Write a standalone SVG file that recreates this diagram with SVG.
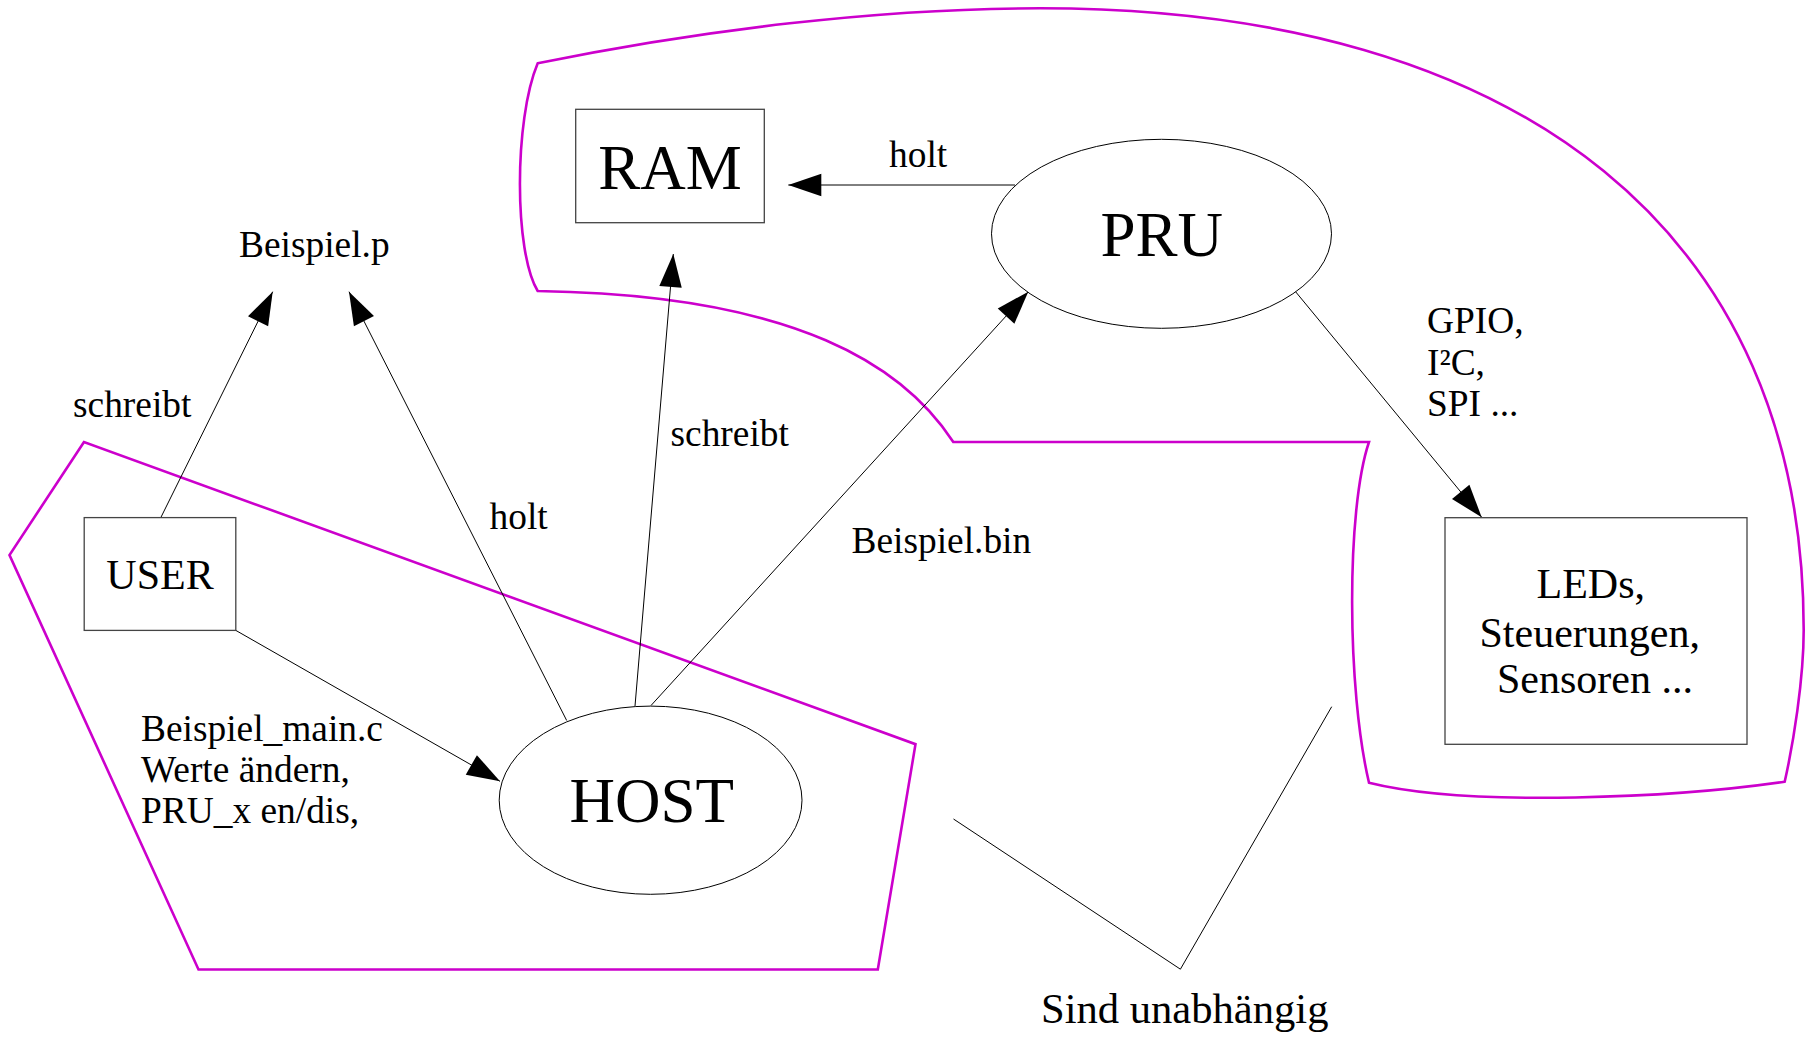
<svg xmlns="http://www.w3.org/2000/svg" width="1812" height="1038" viewBox="0 0 1812 1038">
  <style>
    .lbl { font-family: "Liberation Serif", "Times New Roman", serif; font-size: 37.4px; fill: #000; }
    .big { font-family: "Liberation Serif", "Times New Roman", serif; font-size: 63px; fill: #000; text-anchor: middle; }
    .mid { font-family: "Liberation Serif", "Times New Roman", serif; font-size: 42px; fill: #000; }
    .box { fill: #fff; stroke: #444; stroke-width: 1.3; }
    .ell { fill: #fff; stroke: #000; stroke-width: 1; }
    .edge { fill: none; stroke: #000; stroke-width: 1; }
    .zone { fill: none; stroke: #cc00cc; stroke-width: 2.6; stroke-linejoin: miter; }
  </style>
  <defs>
    <marker id="ah" markerUnits="userSpaceOnUse" markerWidth="34" markerHeight="23" refX="33" refY="11.25" orient="auto" overflow="visible">
      <path d="M0,0 L33,11.25 L0,22.5 z" fill="#000"/>
    </marker>
  </defs>
  <rect x="0" y="0" width="1812" height="1038" fill="#fff"/>

  <!-- grouping outlines -->
  <g id="zones">
    <path id="zone-host" class="zone" d="M84,442 L9.5,555 L198.5,969.5 L877.8,969.5 L915.5,744.2 Z"/>
    <path id="zone-pru" class="zone" d="M537.7,63.3
      C700,30 880,8.3 1040,8.3
      C1525,8.3 1803.7,235.2 1803.7,630
      C1803.7,680 1793,745 1784.7,781.7
      C1680,797 1470,808 1369,782.7
      C1347,690 1346,510 1369,442
      L953.3,442
      C905,368 800,295 537.7,291
      C514,252 514,120 537.7,63.3 Z"/>
  </g>

  <!-- connectors -->
  <g id="connectors">
    <line class="edge" x1="160.6" y1="518" x2="272.7" y2="291.7" marker-end="url(#ah)"/>
    <line class="edge" x1="566.7" y1="720.5" x2="349" y2="291.7" marker-end="url(#ah)"/>
    <line class="edge" x1="635" y1="706" x2="673.3" y2="254" marker-end="url(#ah)"/>
    <line class="edge" x1="651" y1="705.5" x2="1028.3" y2="291.7" marker-end="url(#ah)"/>
    <line class="edge" x1="235.8" y1="630.4" x2="500" y2="781.3" marker-end="url(#ah)"/>
    <line class="edge" x1="1015" y1="185" x2="788.3" y2="185" marker-end="url(#ah)"/>
    <line class="edge" x1="1295" y1="291" x2="1481.7" y2="517.3" marker-end="url(#ah)"/>
    <polyline class="edge" points="953.5,819 1180.4,969.2 1331.7,706.7"/>
  </g>

  <!-- nodes -->
  <g id="node-ram">
    <rect class="box" x="575.7" y="109.3" width="188.6" height="113.4"/>
    <text class="big" x="670" y="189">RAM</text>
  </g>
  <g id="node-pru">
    <ellipse class="ell" cx="1161.5" cy="233.8" rx="170" ry="94.5"/>
    <text class="big" x="1161.7" y="256">PRU</text>
  </g>
  <g id="node-host">
    <ellipse class="ell" cx="650.6" cy="800.2" rx="151.4" ry="94.1"/>
    <text class="big" x="651.7" y="822">HOST</text>
  </g>
  <g id="node-user">
    <rect class="box" x="84.2" y="517.6" width="151.6" height="112.8"/>
    <text class="mid" x="160" y="588.6" text-anchor="middle">USER</text>
  </g>
  <g id="node-io">
    <rect class="box" x="1445" y="517.7" width="302" height="226.6"/>
    <text class="mid" x="1536.5" y="598.3">LEDs,</text>
    <text class="mid" x="1479.5" y="646.7">Steuerungen,</text>
    <text class="mid" x="1497" y="693.3">Sensoren ...</text>
  </g>

  <!-- labels -->
  <g id="labels">
    <text class="lbl" x="239" y="257">Beispiel.p</text>
    <text class="lbl" x="73" y="416.7">schreibt</text>
    <text class="lbl" x="670.5" y="446">schreibt</text>
    <text class="lbl" x="889" y="167">holt</text>
    <text class="lbl" x="489.5" y="529">holt</text>
    <text class="lbl" x="851.5" y="553">Beispiel.bin</text>
    <text class="lbl" x="141" y="741">Beispiel_main.c</text>
    <text class="lbl" x="141" y="782">Werte ändern,</text>
    <text class="lbl" x="141" y="823">PRU_x en/dis,</text>
    <text class="lbl" x="1427" y="333.3">GPIO,</text>
    <text class="lbl" x="1427" y="375">I²C,</text>
    <text class="lbl" x="1427" y="415.5">SPI ...</text>
    <text class="mid" x="1041" y="1022.7" style="font-size:42.6px">Sind unabhängig</text>
  </g>
</svg>
